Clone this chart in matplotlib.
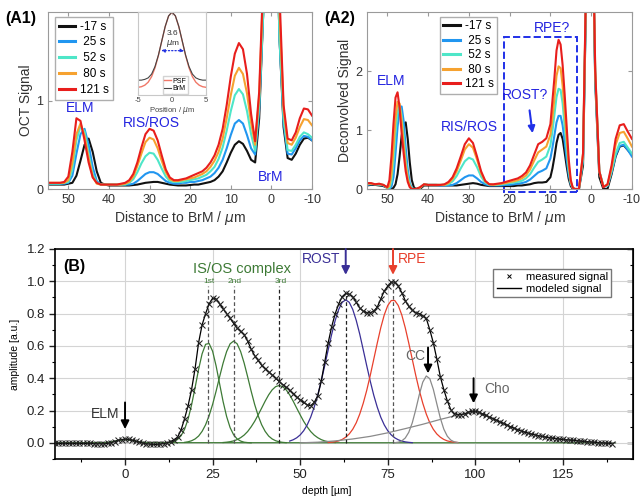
import numpy as np
import matplotlib
matplotlib.use('Agg')
from matplotlib import pyplot as plt
from matplotlib.patches import Rectangle
from matplotlib.lines import Line2D

plt.rcParams['font.family'] = ['Liberation Sans', 'DejaVu Sans']
plt.rcParams['axes.unicode_minus'] = False

# ---------------- data: panel A1 (OCT signal) ----------------
times = ['-17 s', ' 25 s', ' 52 s', ' 80 s', '121 s']
colors = ['#111111', '#2196f0', '#4ee6c8', '#f6a230', '#e81e1c']

x_a1 = list(range(55, -11, -1))
a1_m17 = [0.05, 0.05, 0.05, 0.05, 0.05,
          0.06, 0.07, 0.15, 0.32, 0.5, 0.57, 0.42, 0.2, 0.07, 0.05,
          0.04, 0.04, 0.04, 0.04, 0.04, 0.04, 0.045, 0.05, 0.06, 0.07,
          0.075, 0.08, 0.08, 0.07, 0.06, 0.05, 0.045, 0.04, 0.04, 0.04,
          0.045, 0.05, 0.05, 0.06, 0.07, 0.08, 0.1, 0.14, 0.2, 0.3,
          0.41, 0.5, 0.54, 0.51, 0.43, 0.33, 0.3, 0.8, 2.0, 3.6,
          4.2, 3.5, 1.7, 0.7, 0.35, 0.33, 0.4, 0.5, 0.57, 0.58, 0.55]
a1_25 = [0.06, 0.06, 0.06, 0.06, 0.06,
         0.07, 0.15, 0.4, 0.62, 0.68, 0.5, 0.25, 0.09, 0.05, 0.05,
         0.05, 0.05, 0.05, 0.05, 0.05, 0.05, 0.06, 0.09, 0.13, 0.17,
         0.19, 0.19, 0.17, 0.13, 0.09, 0.07, 0.06, 0.06, 0.07, 0.07,
         0.08, 0.08, 0.09, 0.1, 0.12, 0.14, 0.18, 0.24, 0.33, 0.46,
         0.61, 0.74, 0.78, 0.74, 0.61, 0.46, 0.39, 0.9, 2.0, 3.6,
         4.2, 3.5, 1.7, 0.75, 0.4, 0.39, 0.46, 0.55, 0.6, 0.59, 0.55]
a1_52 = [0.06, 0.06, 0.06, 0.06, 0.07,
         0.08, 0.22, 0.55, 0.71, 0.65, 0.4, 0.17, 0.07, 0.05, 0.05,
         0.05, 0.05, 0.05, 0.05, 0.05, 0.07, 0.11, 0.19, 0.29, 0.37,
         0.41, 0.4, 0.33, 0.23, 0.14, 0.09, 0.08, 0.08, 0.08, 0.09,
         0.1, 0.11, 0.12, 0.14, 0.16, 0.2, 0.25, 0.34, 0.47, 0.66,
         0.88, 1.06, 1.13, 1.07, 0.88, 0.62, 0.43, 0.95, 2.0, 3.6,
         4.2, 3.5, 1.7, 0.8, 0.44, 0.43, 0.5, 0.59, 0.64, 0.62, 0.58]
a1_80 = [0.07, 0.07, 0.07, 0.07, 0.07,
         0.1, 0.3, 0.62, 0.74, 0.6, 0.35, 0.14, 0.06, 0.05, 0.05,
         0.05, 0.05, 0.05, 0.05, 0.06, 0.08, 0.14, 0.26, 0.4, 0.53,
         0.58, 0.56, 0.46, 0.32, 0.19, 0.11, 0.09, 0.09, 0.1, 0.11,
         0.12, 0.13, 0.15, 0.17, 0.2, 0.25, 0.32, 0.42, 0.57, 0.8,
         1.06, 1.28, 1.37, 1.3, 1.08, 0.75, 0.5, 1.05, 2.3, 3.9,
         4.5, 3.9, 2.0, 0.9, 0.52, 0.5, 0.58, 0.7, 0.79, 0.78, 0.72]
a1_121 = [0.07, 0.07, 0.07, 0.07, 0.08,
          0.14, 0.42, 0.8, 0.77, 0.55, 0.3, 0.13, 0.07, 0.05, 0.05,
          0.05, 0.05, 0.05, 0.06, 0.07, 0.1, 0.17, 0.3, 0.47, 0.62,
          0.68, 0.66, 0.55, 0.38, 0.22, 0.13, 0.1, 0.1, 0.11, 0.12,
          0.14, 0.16, 0.18, 0.2, 0.24, 0.3, 0.38, 0.5, 0.68, 0.95,
          1.27, 1.53, 1.65, 1.58, 1.3, 0.85, 0.54, 1.1, 2.4, 4.0,
          4.6, 4.0, 2.2, 0.95, 0.57, 0.55, 0.64, 0.8, 0.91, 0.9, 0.83]

# inset: point spread function
x_psf = [-5, -4.5, -4, -3.5, -3, -2.5, -2, -1.5, -1, -0.5, 0,
         0.5, 1, 1.5, 2, 2.5, 3, 3.5, 4, 4.5, 5]
psf = [0.005, 0.013, 0.033, 0.073, 0.146, 0.263, 0.425, 0.618, 0.808, 0.948, 1.0,
       0.948, 0.808, 0.618, 0.425, 0.263, 0.146, 0.073, 0.033, 0.013, 0.005]
brm = [0.1, 0.1, 0.11, 0.13, 0.18, 0.28, 0.43, 0.62, 0.81, 0.95, 1.0,
       0.95, 0.81, 0.62, 0.43, 0.28, 0.18, 0.13, 0.11, 0.1, 0.1]

# ---------------- data: panel A2 (deconvolved) ----------------
x_a2 = [55, 54, 53, 52, 51, 50,
        49.5, 49, 48.5, 48, 47.5, 47, 46.5, 46, 45.5, 45, 44.5, 44, 43.5, 43,
        42, 41, 40, 39, 38, 37, 36, 35, 34, 33, 32, 31, 30, 29, 28, 27, 26,
        25, 24, 23, 22, 21, 20, 19, 18, 17, 16, 15, 14, 13, 12, 11, 10,
        9.5, 9, 8.5, 8, 7.5, 7, 6.5, 6, 5.5, 5, 4.5, 4,
        3, 2, 1, 0, -1, -2, -3, -4, -5, -6, -7, -8, -9, -10]
a2_m17 = [0.06, 0.07, 0.07, 0.06, 0.05, 0.02,
          0.0, 0.0, 0.02, 0.08, 0.25, 0.55, 0.9, 1.1, 1.13, 0.85, 0.45, 0.15, 0.03, 0.0,
          0.0, 0.06, 0.06, 0.06, 0.06, 0.06, 0.06, 0.06, 0.06, 0.06, 0.07, 0.08, 0.09,
          0.1, 0.09, 0.07, 0.06, 0.05, 0.05, 0.05, 0.05, 0.05, 0.05, 0.05, 0.06, 0.06,
          0.07, 0.08, 0.1, 0.11, 0.11, 0.12, 0.2,
          0.35, 0.55, 0.78, 0.92, 0.95, 0.85, 0.62, 0.38, 0.17, 0.05, 0.0, 0.0,
          0.0, 0.4, 4.2, 5.7, 1.8, 0.2, 0.0, 0.0, 0.25, 0.55, 0.72, 0.74, 0.66, 0.58]
a2_25 = [0.07, 0.08, 0.08, 0.07, 0.06, 0.02,
         0.0, 0.04, 0.2, 0.6, 1.05, 1.35, 1.4, 1.15, 0.7, 0.33, 0.1, 0.02, 0.0, 0.0,
         0.02, 0.08, 0.07, 0.07, 0.07, 0.06, 0.06, 0.06, 0.07, 0.1, 0.15, 0.2, 0.23,
         0.23, 0.18, 0.12, 0.08, 0.06, 0.06, 0.06, 0.06, 0.07, 0.07, 0.08, 0.09, 0.1,
         0.12, 0.16, 0.22, 0.28, 0.31, 0.35, 0.52,
         0.7, 0.92, 1.13, 1.24, 1.24, 1.08, 0.8, 0.5, 0.24, 0.08, 0.01, 0.0,
         0.0, 0.5, 4.3, 5.8, 1.9, 0.3, 0.04, 0.05, 0.28, 0.57, 0.73, 0.75, 0.66, 0.55]
a2_52 = [0.08, 0.09, 0.08, 0.08, 0.07, 0.02,
         0.02, 0.12, 0.45, 0.95, 1.3, 1.42, 1.25, 0.9, 0.5, 0.22, 0.07, 0.01, 0.0, 0.0,
         0.02, 0.08, 0.07, 0.07, 0.07, 0.07, 0.07, 0.08, 0.13, 0.22, 0.35, 0.47, 0.53,
         0.5, 0.37, 0.21, 0.11, 0.07, 0.07, 0.07, 0.08, 0.09, 0.1, 0.11, 0.12, 0.14,
         0.18, 0.25, 0.36, 0.46, 0.5, 0.55, 0.74,
         0.98, 1.27, 1.56, 1.7, 1.68, 1.45, 1.05, 0.68, 0.32, 0.1, 0.02, 0.0,
         0.0, 0.5, 4.3, 5.8, 1.9, 0.3, 0.05, 0.06, 0.3, 0.6, 0.78, 0.8, 0.7, 0.6]
a2_80 = [0.09, 0.09, 0.08, 0.08, 0.07, 0.02,
         0.05, 0.25, 0.7, 1.2, 1.48, 1.45, 1.15, 0.75, 0.4, 0.17, 0.05, 0.0, 0.0, 0.0,
         0.02, 0.08, 0.07, 0.07, 0.07, 0.07, 0.07, 0.1, 0.17, 0.3, 0.48, 0.67, 0.76,
         0.7, 0.5, 0.27, 0.13, 0.08, 0.07, 0.08, 0.09, 0.1, 0.12, 0.13, 0.15, 0.18,
         0.23, 0.33, 0.48, 0.62, 0.67, 0.72, 0.92,
         1.2, 1.55, 1.92, 2.08, 2.05, 1.75, 1.3, 0.85, 0.4, 0.12, 0.02, 0.0,
         0.0, 0.6, 4.4, 5.9, 2.0, 0.3, 0.04, 0.07, 0.35, 0.75, 0.95, 0.97, 0.85, 0.72]
a2_121 = [0.1, 0.1, 0.08, 0.09, 0.07, 0.03,
          0.15, 0.55, 1.1, 1.55, 1.64, 1.38, 0.95, 0.6, 0.3, 0.12, 0.03, 0.0, 0.0, 0.0,
          0.03, 0.08, 0.07, 0.07, 0.07, 0.07, 0.08, 0.12, 0.2, 0.35, 0.55, 0.76, 0.86,
          0.78, 0.55, 0.3, 0.14, 0.08, 0.08, 0.09, 0.1, 0.12, 0.14, 0.16, 0.18, 0.22,
          0.28, 0.4, 0.58, 0.76, 0.8, 0.86, 1.1,
          1.5, 1.9, 2.35, 2.53, 2.45, 2.1, 1.6, 1.05, 0.5, 0.15, 0.02, 0.0,
          0.0, 0.6, 4.5, 6.0, 2.0, 0.3, 0.03, 0.08, 0.4, 0.85, 1.08, 1.1, 0.97, 0.85]

# ---------------- data: panel B (layer model) ----------------
depth = list(range(-20, 140))
measured = [-0.004, -0.004, -0.004, -0.004, -0.004, -0.004, -0.004, -0.004, -0.004, -0.004,
            -0.004, -0.005, -0.006, -0.006, -0.006, -0.004, 0.0, 0.008, 0.015, 0.02,
            0.023, 0.022, 0.017, 0.01, 0.004, -0.002, -0.006, -0.008, -0.01, -0.01,
            -0.008, -0.005, 0.0, 0.008, 0.02, 0.035, 0.08, 0.15, 0.23, 0.33,
            0.46, 0.62, 0.73, 0.8, 0.86, 0.895, 0.89, 0.86, 0.83, 0.8,
            0.77, 0.74, 0.71, 0.69, 0.67, 0.63, 0.58, 0.54, 0.51, 0.48,
            0.46, 0.44, 0.42, 0.4, 0.38, 0.36, 0.345, 0.325, 0.305, 0.285,
            0.265, 0.25, 0.235, 0.23, 0.25, 0.29, 0.38, 0.5, 0.62, 0.72,
            0.8, 0.86, 0.905, 0.925, 0.92, 0.905, 0.87, 0.835, 0.815, 0.805,
            0.805, 0.815, 0.84, 0.89, 0.94, 0.97, 0.995, 0.995, 0.97, 0.93,
            0.88, 0.845, 0.82, 0.805, 0.8, 0.785, 0.77, 0.7, 0.62, 0.52,
            0.41, 0.33, 0.26, 0.205, 0.18, 0.175, 0.175, 0.18, 0.19, 0.195,
            0.195, 0.19, 0.18, 0.17, 0.16, 0.15, 0.14, 0.13, 0.12, 0.11,
            0.1, 0.09, 0.082, 0.074, 0.067, 0.06, 0.054, 0.049, 0.044, 0.04,
            0.036, 0.032, 0.029, 0.026, 0.023, 0.021, 0.019, 0.017, 0.015, 0.013,
            0.011, 0.009, 0.007, 0.005, 0.003, 0.001, 0.0, -0.002, -0.004, -0.005]

x_elm = [-20, -6, -4, -2, 0, 2, 4, 6, 140]
elm_comp = [0, 0.001, 0.006, 0.015, 0.02, 0.015, 0.006, 0.001, 0]
x_g1 = list(range(13, 37))
g1 = [0.004, 0.009, 0.021, 0.044, 0.084, 0.147, 0.235, 0.342, 0.455, 0.551, 0.61, 0.615,
      0.567, 0.476, 0.365, 0.255, 0.163, 0.094, 0.05, 0.024, 0.011, 0.004, 0.0015, 0.0]
x_g2 = list(range(17, 47))
g2 = [0.003, 0.0065, 0.013, 0.024, 0.042, 0.071, 0.112, 0.168, 0.238, 0.32, 0.409, 0.494,
      0.565, 0.613, 0.63, 0.613, 0.565, 0.494, 0.409, 0.32, 0.238, 0.168, 0.112, 0.071,
      0.042, 0.024, 0.013, 0.0065, 0.003, 0.001]
x_g3 = list(range(28, 61))
g3 = [0.002, 0.004, 0.007, 0.012, 0.02, 0.032, 0.048, 0.07, 0.099, 0.133, 0.173, 0.215,
      0.258, 0.297, 0.328, 0.348, 0.355, 0.348, 0.328, 0.297, 0.258, 0.215, 0.173, 0.133,
      0.099, 0.07, 0.048, 0.032, 0.02, 0.012, 0.007, 0.004, 0.002]
x_rost = list(range(47, 83))
rost = [0.011, 0.019, 0.031, 0.049, 0.075, 0.111, 0.159, 0.221, 0.295, 0.382, 0.477, 0.576,
        0.673, 0.758, 0.826, 0.87, 0.885, 0.87, 0.826, 0.758, 0.673, 0.576, 0.477, 0.382,
        0.295, 0.221, 0.159, 0.111, 0.075, 0.049, 0.031, 0.019, 0.011, 0.006, 0.003, 0.001]
x_rpe = list(range(58, 96))
rpe = [0.002, 0.004, 0.007, 0.012, 0.021, 0.035, 0.055, 0.084, 0.124, 0.178, 0.245, 0.325,
       0.417, 0.517, 0.617, 0.712, 0.792, 0.85, 0.881, 0.881, 0.85, 0.792, 0.712, 0.617,
       0.517, 0.417, 0.325, 0.245, 0.178, 0.124, 0.084, 0.055, 0.035, 0.021, 0.012, 0.007,
       0.004, 0.002]
x_cc = list(range(77, 96))
cc = [0.001, 0.004, 0.012, 0.03, 0.065, 0.124, 0.206, 0.298, 0.376, 0.414, 0.397, 0.332,
      0.242, 0.154, 0.085, 0.041, 0.017, 0.006, 0.002]
x_cho = [50, 55, 60, 65, 70, 75, 80, 85, 90, 95, 100, 105, 110, 115, 120, 125, 130, 135, 140]
cho = [0.0, 0.004, 0.012, 0.024, 0.04, 0.062, 0.088, 0.115, 0.145, 0.172, 0.19, 0.15, 0.1,
       0.06, 0.036, 0.021, 0.011, 0.001, 0.0]

peak_pos = [23.6, 31, 44, 63, 76.5]
peak_top = [0.97, 0.97, 0.97, 0.92, 1.0]
peak_names = ['1st', '2nd', '3rd']

# ---------------- figure ----------------
fig = plt.figure(figsize=(6.4, 5.04), dpi=100)
blue_txt = '#2424e0'


def style_a(ax):
    for s in ax.spines.values():
        s.set_color('#9a9a9a')
        s.set_linewidth(0.8)
    ax.tick_params(direction='in', top=True, right=True, labelsize=9,
                   colors='#9a9a9a', labelcolor='#333333', length=3)
    ax.set_xlim(55, -10)
    ax.set_xticks([50, 40, 30, 20, 10, 0, -10])
    ax.set_xlabel(r'Distance to BrM / $\mu$m', fontsize=10, color='#333333', labelpad=2)


ys_a1 = [a1_m17, a1_25, a1_52, a1_80, a1_121]
ys_a2 = [a2_m17, a2_25, a2_52, a2_80, a2_121]

# A1
ax1 = fig.add_axes([0.075, 0.625, 0.4125, 0.351])
for y, c, t in zip(ys_a1, colors, times):
    ax1.plot(x_a1, y, color=c, lw=1.5, label=t)
ax1.set_ylim(0, 2)
ax1.set_yticks([0, 1])
style_a(ax1)
ax1.set_ylabel('OCT Signal', fontsize=10, color='#333333', labelpad=2)
leg = ax1.legend(loc='upper left', bbox_to_anchor=(0.025, 0.975), borderaxespad=0,
                 fontsize=8.5, handlelength=1.4, handletextpad=0.4, labelspacing=0.32,
                 fancybox=False, edgecolor='#9a9a9a', borderpad=0.35)
for h in leg.get_lines():
    h.set_linewidth(2.2)
ax1.text(47, 0.92, 'ELM', color=blue_txt, fontsize=10, ha='center', va='center')
ax1.text(29.6, 0.75, 'RIS/ROS', color=blue_txt, fontsize=10, ha='center', va='center')
ax1.text(0.1, 0.14, 'BrM', color=blue_txt, fontsize=10, ha='center', va='center')
fig.text(0.033, 0.964, '(A1)', fontsize=11.5, fontweight='bold', ha='center', va='center')

# inset
axi = fig.add_axes([0.2156, 0.811, 0.1063, 0.165])
axi.plot(x_psf, psf, color='#f07868', lw=1.0, label='PSF')
axi.plot(x_psf, brm, color='#444444', lw=0.8, label='BrM')
axi.set_xlim(-5, 5)
axi.set_ylim(-0.1, 1.0)
axi.set_xticks([-5, 0, 5])
axi.set_yticks([])
for s in axi.spines.values():
    s.set_color('#c8c8c8')
axi.tick_params(direction='in', top=True, labelsize=5.5, colors='#c8c8c8',
                labelcolor='#444444', length=2, pad=1.5)
axi.set_xlabel(r'Position / $\mu$m', fontsize=5.5, color='#444444', labelpad=0.5)
axi.text(0.1, 0.72, '3.6', fontsize=6, ha='center', va='center', color='#333333')
axi.text(0.1, 0.58, r'$\mu$m', fontsize=6, ha='center', va='center', color='#333333')
axi.annotate('', xy=(-1.6, 0.49), xytext=(1.8, 0.49),
             arrowprops=dict(arrowstyle='<|-|>', color='#2030e0', lw=0.9, ls=':',
                             mutation_scale=5, shrinkA=0, shrinkB=0))
axi.legend(loc='lower center', bbox_to_anchor=(0.55, 0.02), fontsize=5, handlelength=1.0,
           handletextpad=0.2, labelspacing=0.1, borderpad=0.2, fancybox=False,
           edgecolor='#c8c8c8', borderaxespad=0)

# A2
ax2 = fig.add_axes([0.5734, 0.625, 0.414, 0.351])
for y, c, t in zip(ys_a2, colors, times):
    ax2.plot(x_a2, y, color=c, lw=1.5, label=t)
ax2.set_ylim(0, 3)
ax2.set_yticks([0, 1, 2])
style_a(ax2)
ax2.set_ylabel('Deconvolved Signal', fontsize=10, color='#333333', labelpad=2)
leg = ax2.legend(loc='upper left', bbox_to_anchor=(0.275, 0.975), borderaxespad=0,
                 fontsize=8.5, handlelength=1.4, handletextpad=0.4, labelspacing=0.22,
                 fancybox=False, edgecolor='#9a9a9a', borderpad=0.3)
for h in leg.get_lines():
    h.set_linewidth(2.2)
ax2.add_patch(Rectangle((3.5, -0.05), 17.9, 2.63, fill=False, ls='--', lw=1.4,
                        edgecolor='#2030e8', clip_on=False))
ax2.text(49, 1.83, 'ELM', color=blue_txt, fontsize=10, ha='center', va='center')
ax2.text(29.8, 1.05, 'RIS/ROS', color=blue_txt, fontsize=10, ha='center', va='center')
ax2.text(16.3, 1.6, 'ROST?', color=blue_txt, fontsize=10, ha='center', va='center')
ax2.text(9.7, 2.73, 'RPE?', color=blue_txt, fontsize=10, ha='center', va='center')
ax2.annotate('', xy=(14.3, 0.9), xytext=(15.2, 1.38),
             arrowprops=dict(arrowstyle='-|>', color='#2030e8', lw=1.5, mutation_scale=10))
fig.text(0.53, 0.964, '(A2)', fontsize=11.5, fontweight='bold', ha='center', va='center')

# B
axb = fig.add_axes([0.0859, 0.0893, 0.9031, 0.4167])
green = '#3d7a35'
axb.plot(x_elm, elm_comp, color=green, lw=0.9)
axb.plot(x_g1, g1, color=green, lw=0.9)
axb.plot(x_g2, g2, color=green, lw=0.9)
axb.plot(x_g3, g3, color=green, lw=0.9)
axb.plot(x_rost, rost, color='#3a2f96', lw=0.9)
axb.plot(x_rpe, rpe, color='#e8402c', lw=0.9)
axb.plot(x_cc, cc, color='#8a8a8a', lw=0.9)
axb.plot(x_cho, cho, color='#8a8a8a', lw=0.9)
for i, (p, t) in enumerate(zip(peak_pos, peak_top)):
    axb.plot([p, p], [0, t], ls=(0, (3, 2)), color='#555555' if i in (0, 1, 4) else '#222222',
             lw=0.9)
for p, n in zip(peak_pos[:3], peak_names):
    axb.text(p + 0.4, 1.0, n, fontsize=6, color=green, ha='center', va='center')
axb.plot(depth, measured, color='k', lw=0.9, zorder=3)
axb.plot(depth, measured, ls='none', marker='x', ms=3.8, mew=0.75, color='#222222', zorder=4)

axb.text(33.5, 1.075, 'IS/OS complex', fontsize=10.5, color=green, ha='center', va='center')
arrow_k = dict(arrowstyle='-|>', color='k', lw=1.4, mutation_scale=12, shrinkA=0, shrinkB=0)
axb.annotate('', xy=(0, 0.085), xytext=(0, 0.25), arrowprops=arrow_k)
axb.text(-1.5, 0.18, 'ELM', fontsize=10, color='#333333', ha='right', va='center')
axb.annotate('', xy=(63, 1.04), xytext=(63, 1.2),
             arrowprops=dict(arrow_k, color='#3a2f96'), annotation_clip=False)
axb.text(61.6, 1.14, 'ROST', fontsize=10, color='#3a2f96', ha='right', va='center')
axb.annotate('', xy=(76.5, 1.04), xytext=(76.5, 1.2),
             arrowprops=dict(arrow_k, color='#e8402c'), annotation_clip=False)
axb.text(78, 1.14, 'RPE', fontsize=10, color='#e8402c', ha='left', va='center')
axb.annotate('', xy=(86.5, 0.43), xytext=(86.5, 0.59), arrowprops=arrow_k)
axb.text(85.6, 0.54, 'CC', fontsize=10, color='#666666', ha='right', va='center')
axb.annotate('', xy=(99.5, 0.245), xytext=(99.5, 0.4), arrowprops=arrow_k)
axb.text(102.5, 0.335, 'Cho', fontsize=10, color='#666666', ha='left', va='center')
axb.text(-14.6, 1.09, '(B)', fontsize=11.5, fontweight='bold', ha='center', va='center')

axb.set_xlim(-20, 145)
axb.set_ylim(-0.1, 1.2)
axb.set_xticks([0, 25, 50, 75, 100, 125])
axb.set_xticks(np.arange(-12.5, 145, 25), minor=True)
axb.set_yticks(np.arange(0, 1.21, 0.2))
axb.set_yticks(np.arange(-0.1, 1.21, 0.1), minor=True)
axb.set_yticklabels(['%.1f' % v for v in np.arange(0, 1.21, 0.2)])
axb.grid(True, which='major', color='#d4d4d4', lw=0.8)
axb.set_axisbelow(True)
for s in axb.spines.values():
    s.set_linewidth(1.2)
axb.tick_params(which='major', length=4, width=1, labelsize=9.5, colors='#222222', pad=3)
axb.tick_params(which='minor', length=2.5, width=0.8)
axr = axb.secondary_yaxis('right')
axr.set_yticks(np.arange(0, 1.21, 0.2))
axr.set_yticks(np.arange(-0.1, 1.21, 0.1), minor=True)
axr.tick_params(which='both', direction='in', labelright=False)
axr.tick_params(which='major', length=4, width=1)
axr.tick_params(which='minor', length=2.5, width=0.8)
axb.set_xlabel(u'depth [\u00b5m]', fontsize=7.5, labelpad=4)
axb.xaxis.set_label_coords(0.47, -0.13)
axb.set_ylabel('amplitude [a.u.]', fontsize=7.5, labelpad=5)

handles = [Line2D([], [], ls='none', marker='x', ms=3.5, mew=0.7, color='k'),
           Line2D([], [], color='k', lw=1.0)]
axb.legend(handles, ['measured signal', 'modeled signal'], loc='upper right',
           bbox_to_anchor=(0.962, 0.905), borderaxespad=0, fontsize=8, handlelength=2.2,
           handletextpad=0.4, labelspacing=0.15, fancybox=False, edgecolor='#777777',
           borderpad=0.3, framealpha=1)

fig.savefig('out.png', dpi=100)
